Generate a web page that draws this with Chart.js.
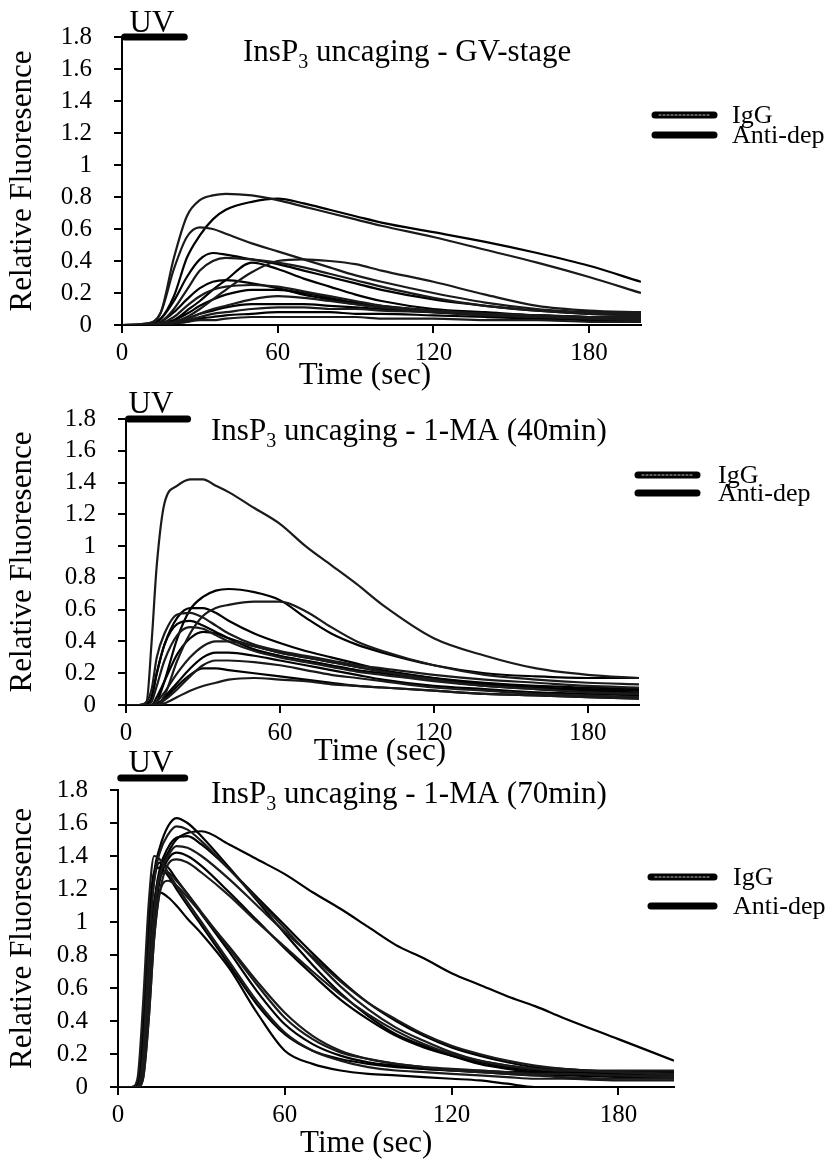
<!DOCTYPE html>
<html><head><meta charset="utf-8">
<script src="https://cdn.jsdelivr.net/npm/chart.js@4.4.1/dist/chart.umd.min.js"></script>
<style>
html,body{margin:0;padding:0;background:#fff;}
body{width:832px;height:1162px;position:relative;overflow:hidden;}
canvas{position:absolute;left:0;}
</style></head><body>
<canvas id="c1" width="832" height="400" style="top:0px"></canvas>
<canvas id="c2" width="832" height="400" style="top:380px"></canvas>
<canvas id="c3" width="832" height="422" style="top:740px"></canvas>
<script>
// ---------- tick labels / categories ----------
const X_TICKS = [0, 60, 120, 180];
const Y_TICKS = [0, 0.2, 0.4, 0.6, 0.8, 1, 1.2, 1.4, 1.6, 1.8];
const Y_LABELS = ['0', '0.2', '0.4', '0.6', '0.8', '1', '1.2', '1.4', '1.6', '1.8'];
const UV_PERIOD = [1, 24];
const LEGEND_LABELS = ['IgG', 'Anti-dep'];
const TITLE_REST = [' uncaging - GV-stage', ' uncaging - 1-MA (40min)', ' uncaging - 1-MA (70min)'];

// ---------- panel 1: GV-stage ----------
const T_GV = [0,10,15,20,25,30,35,40,50,60,70,80,90,100,120,140,160,180,200];
const GV_A = [0,0.01,0.08,0.42,0.68,0.78,0.81,0.82,0.81,0.78,0.74,0.70,0.66,0.62,0.55,0.47,0.39,0.30,0.20];
const GV_B = [0,0,0.04,0.18,0.42,0.56,0.66,0.72,0.77,0.79,0.76,0.72,0.68,0.64,0.58,0.52,0.45,0.37,0.27];
const GV_C = [0,0.01,0.08,0.35,0.55,0.61,0.60,0.57,0.51,0.46,0.41,0.36,0.31,0.27,0.20,0.14,0.10,0.08,0.07];
const GV_D = [0,0,0.04,0.15,0.30,0.41,0.45,0.44,0.41,0.38,0.34,0.30,0.26,0.22,0.16,0.12,0.09,0.07,0.06];
const GV_E = [0,0,0.02,0.10,0.22,0.34,0.40,0.42,0.41,0.39,0.36,0.32,0.28,0.24,0.17,0.12,0.09,0.07,0.06];
const GV_F = [0,0,0.01,0.03,0.09,0.15,0.22,0.28,0.39,0.35,0.29,0.24,0.19,0.15,0.10,0.08,0.06,0.05,0.05];
const GV_G = [0,0,0.01,0.02,0.05,0.10,0.16,0.22,0.33,0.40,0.41,0.40,0.38,0.34,0.27,0.19,0.12,0.09,0.08];
const GV_H = [0,0,0.02,0.08,0.16,0.23,0.27,0.28,0.26,0.23,0.19,0.16,0.13,0.11,0.08,0.06,0.05,0.04,0.04];
const GV_I = [0,0,0.01,0.05,0.12,0.18,0.22,0.24,0.25,0.24,0.21,0.18,0.15,0.12,0.09,0.07,0.06,0.05,0.05];
const GV_J = [0,0,0.01,0.03,0.07,0.12,0.16,0.19,0.22,0.22,0.20,0.17,0.14,0.12,0.09,0.07,0.05,0.04,0.03];
const GV_K = [0,0,0.01,0.02,0.04,0.07,0.10,0.12,0.16,0.18,0.17,0.15,0.13,0.11,0.09,0.07,0.06,0.05,0.04];
const GV_L = [0,0,0.01,0.02,0.04,0.07,0.09,0.11,0.13,0.13,0.13,0.12,0.11,0.10,0.08,0.07,0.06,0.05,0.04];
const GV_M = [0,0,0,0.02,0.03,0.05,0.07,0.08,0.10,0.11,0.11,0.10,0.10,0.09,0.08,0.06,0.05,0.04,0.03];
const GV_N = [0,0,0,0.01,0.02,0.04,0.05,0.06,0.07,0.08,0.08,0.08,0.07,0.07,0.06,0.05,0.04,0.03,0.02];
const GV_O = [0,0,0,0.01,0.02,0.03,0.03,0.04,0.05,0.05,0.05,0.05,0.05,0.04,0.04,0.03,0.03,0.02,0.02];
const GV_IGG = [GV_A, GV_C, GV_E, GV_G, GV_I, GV_K, GV_M, GV_O];
const GV_ANTI = [GV_B, GV_D, GV_F, GV_H, GV_J, GV_L, GV_N];

// ---------- panel 2: 1-MA (40min) ----------
const T_40 = [0,5,8,10,12,15,20,25,30,35,40,50,60,70,80,90,100,120,140,160,180,200];
const M40_P = [0,0,0.02,0.40,0.88,1.27,1.38,1.42,1.42,1.38,1.34,1.24,1.14,1.00,0.88,0.76,0.63,0.42,0.31,0.23,0.19,0.17];
const M40_Q = [0,0,0,0,0.02,0.15,0.42,0.60,0.68,0.72,0.73,0.71,0.66,0.55,0.45,0.38,0.33,0.25,0.20,0.18,0.17,0.17];
const M40_R = [0,0,0,0,0,0.06,0.28,0.45,0.56,0.61,0.63,0.65,0.65,0.59,0.49,0.40,0.34,0.25,0.19,0.16,0.14,0.13];
const M40_S = [0,0,0,0.05,0.20,0.38,0.55,0.61,0.61,0.58,0.53,0.45,0.39,0.34,0.30,0.26,0.22,0.17,0.13,0.11,0.09,0.08];
const M40_T = [0,0,0.02,0.10,0.30,0.45,0.57,0.58,0.55,0.50,0.45,0.38,0.34,0.31,0.28,0.25,0.23,0.19,0.16,0.14,0.12,0.11];
const M40_U = [0,0,0.01,0.05,0.20,0.38,0.51,0.53,0.50,0.46,0.42,0.35,0.31,0.28,0.25,0.22,0.20,0.16,0.13,0.11,0.10,0.09];
const M40_V = [0,0,0,0.02,0.12,0.28,0.44,0.49,0.48,0.44,0.40,0.34,0.30,0.27,0.24,0.21,0.19,0.15,0.12,0.10,0.08,0.07];
const M40_W = [0,0,0,0,0.05,0.15,0.32,0.42,0.46,0.45,0.42,0.37,0.33,0.30,0.27,0.24,0.21,0.17,0.14,0.12,0.11,0.10];
const M40_X = [0,0,0,0,0.02,0.08,0.20,0.30,0.37,0.40,0.40,0.37,0.33,0.30,0.27,0.24,0.21,0.16,0.12,0.10,0.08,0.07];
const M40_Y = [0,0,0,0,0,0.05,0.14,0.23,0.30,0.33,0.33,0.31,0.28,0.25,0.22,0.19,0.16,0.12,0.10,0.08,0.07,0.06];
const M40_Z = [0,0,0,0,0,0.03,0.10,0.18,0.25,0.28,0.28,0.27,0.25,0.22,0.19,0.17,0.15,0.11,0.09,0.07,0.06,0.05];
const M40_AA = [0,0,0,0,0.01,0.04,0.12,0.19,0.23,0.23,0.22,0.20,0.18,0.16,0.14,0.12,0.11,0.09,0.07,0.06,0.05,0.04];
const M40_AB = [0,0,0,0,0,0.01,0.05,0.09,0.12,0.14,0.16,0.17,0.16,0.15,0.13,0.12,0.11,0.09,0.07,0.06,0.05,0.04];
const M40_IGG = [M40_P, M40_R, M40_T, M40_V, M40_X, M40_Z, M40_AB];
const M40_ANTI = [M40_Q, M40_S, M40_U, M40_W, M40_Y, M40_AA];

// ---------- panel 3: 1-MA (70min) ----------
const T_70 = [0,5,7,9,11,13,15,18,21,25,30,40,50,60,70,80,90,100,110,120,130,140,150,160,180,200];
const M70_F1 = [0,0,0.05,0.50,1.10,1.40,1.38,1.30,1.22,1.12,1.00,0.76,0.52,0.33,0.22,0.16,0.12,0.10,0.09,0.08,0.07,0.06,0.05,0.05,0.04,0.04];
const M70_F2 = [0,0,0.02,0.30,0.90,1.25,1.36,1.33,1.26,1.17,1.05,0.82,0.58,0.38,0.26,0.19,0.15,0.13,0.11,0.10,0.09,0.08,0.07,0.07,0.06,0.06];
const M70_F3 = [0,0,0,0.15,0.60,1.05,1.28,1.30,1.25,1.17,1.06,0.84,0.62,0.42,0.29,0.21,0.17,0.14,0.12,0.11,0.10,0.09,0.08,0.08,0.07,0.06];
const M70_F4 = [0,0,0,0.20,0.70,1.12,1.18,1.15,1.10,1.02,0.93,0.72,0.45,0.22,0.14,0.10,0.08,0.07,0.06,0.05,0.04,0.02,0.00,0.00,0.00,0.00];
const M70_F5 = [0,0,0,0.05,0.40,0.90,1.18,1.25,1.22,1.15,1.05,0.85,0.64,0.45,0.31,0.22,0.17,0.14,0.12,0.10,0.09,0.08,0.07,0.06,0.05,0.05];
const M70_F6 = [0,0,0.02,0.40,1.00,1.30,1.33,1.28,1.20,1.10,0.98,0.74,0.50,0.32,0.22,0.17,0.14,0.12,0.11,0.10,0.10,0.09,0.09,0.09,0.09,0.09];
const M70_M1 = [0,0,0,0.30,0.90,1.30,1.45,1.58,1.63,1.60,1.52,1.33,1.13,0.93,0.74,0.57,0.43,0.32,0.25,0.19,0.14,0.11,0.09,0.08,0.07,0.06];
const M70_M2 = [0,0,0,0.20,0.80,1.25,1.42,1.53,1.58,1.56,1.49,1.32,1.14,0.96,0.78,0.61,0.47,0.36,0.28,0.21,0.16,0.13,0.11,0.10,0.09,0.08];
const M70_M3 = [0,0,0,0.10,0.60,1.10,1.32,1.45,1.51,1.52,1.47,1.32,1.15,0.98,0.81,0.65,0.51,0.40,0.31,0.24,0.19,0.15,0.12,0.11,0.09,0.08];
const M70_M4 = [0,0,0,0.10,0.60,1.05,1.28,1.40,1.46,1.45,1.40,1.26,1.10,0.94,0.79,0.64,0.51,0.41,0.32,0.25,0.20,0.16,0.13,0.11,0.09,0.07];
const M70_M5 = [0,0,0,0.10,0.50,1.00,1.25,1.38,1.42,1.40,1.34,1.18,1.01,0.84,0.68,0.53,0.41,0.31,0.24,0.19,0.15,0.12,0.10,0.09,0.08,0.07];
const M70_M6 = [0,0,0,0.05,0.40,0.90,1.18,1.35,1.38,1.36,1.30,1.16,1.00,0.85,0.70,0.56,0.44,0.34,0.26,0.20,0.16,0.13,0.11,0.10,0.10,0.10];
const M70_S1 = [0,0,0,0.20,0.70,1.10,1.30,1.42,1.50,1.54,1.55,1.47,1.38,1.29,1.18,1.08,0.97,0.86,0.78,0.69,0.62,0.55,0.49,0.42,0.29,0.16];
const M70_IGG = [M70_F1, M70_F3, M70_F5, M70_M2, M70_M4, M70_M6];
const M70_ANTI = [M70_F2, M70_F4, M70_F6, M70_M1, M70_M3, M70_M5, M70_S1];

// ---------- rendering ----------
const SERIF = "'Liberation Serif', 'Times New Roman', Times, serif";
Chart.defaults.font.family = SERIF;
Chart.defaults.color = '#000';

function makeDecor(o) {
  return {
    id: 'decor' + o.id,
    afterDraw(chart) {
      const ctx = chart.ctx, xs = chart.scales.x;
      ctx.save();
      ctx.fillStyle = '#000';
      ctx.textAlign = 'center';
      ctx.textBaseline = 'alphabetic';
      // UV label
      ctx.font = '31px ' + SERIF;
      ctx.fillText('UV', o.uvTextX, o.uvTextY);
      // panel title with subscript
      ctx.textAlign = 'left';
      let x = o.titleX;
      ctx.fillText('InsP', x, o.titleY);
      x += ctx.measureText('InsP').width;
      ctx.font = '20px ' + SERIF;
      ctx.fillText('3', x, o.titleY + 7);
      x += ctx.measureText('3').width;
      ctx.font = '31px ' + SERIF;
      ctx.fillText(o.titleRest, x, o.titleY);
      // x axis title
      ctx.textAlign = 'center';
      ctx.fillText('Time (sec)', xs.getPixelForValue(o.xTitleAt), o.xTitleY);
      // legend
      ctx.textAlign = 'left';
      ctx.font = o.legendFont + 'px ' + SERIF;
      LEGEND_LABELS.forEach((lab, i) => {
        const y = o.legendY[i];
        ctx.lineCap = 'round';
        ctx.strokeStyle = '#000';
        ctx.lineWidth = 7;
        ctx.setLineDash([]);
        ctx.beginPath(); ctx.moveTo(o.legendX1, y); ctx.lineTo(o.legendX2, y); ctx.stroke();
        if (i === 0) {
          ctx.strokeStyle = '#bdbdbd'; ctx.lineWidth = 1.2; ctx.setLineDash([2, 2]);
          ctx.beginPath(); ctx.moveTo(o.legendX1 + 4, y); ctx.lineTo(o.legendX2 - 4, y); ctx.stroke();
          ctx.setLineDash([]);
        }
        ctx.fillText(lab, o.legendTextX, y + 8);
      });
      ctx.restore();
    }
  };
}

function trace(label, times, values, color) {
  return {
    label: label,
    data: times.map((t, i) => ({ x: t, y: values[i] })),
    borderColor: color, borderWidth: 2.2, pointRadius: 0,
    cubicInterpolationMode: 'monotone', fill: false
  };
}

function buildPanel(o) {
  const ds = [];
  o.igg.forEach((v, i) => ds.push(trace('IgG ' + (i + 1), o.times, v, '#1a1a1a')));
  o.anti.forEach((v, i) => ds.push(trace('Anti-dep ' + (i + 1), o.times, v, '#000')));
  ds.push({
    label: 'UV', data: [{ x: UV_PERIOD[0], y: o.uvLevel }, { x: UV_PERIOD[1], y: o.uvLevel }],
    borderColor: '#000', borderWidth: 7, borderCapStyle: 'round', pointRadius: 0, clip: false
  });
  const axisGrid = { drawOnChartArea: false, drawTicks: true, tickLength: 8, color: '#000', lineWidth: 2 };
  new Chart(document.getElementById(o.id), {
    type: 'line',
    data: { datasets: ds },
    options: {
      responsive: false, animation: false, events: [],
      layout: { padding: { top: o.area.top, left: 0, right: 832 - o.area.right, bottom: o.h - o.area.bottom - 40 } },
      plugins: { legend: { display: false }, tooltip: { enabled: false } },
      scales: {
        x: {
          type: 'linear', min: 0, max: 200,
          afterBuildTicks: s => { s.ticks = X_TICKS.map(v => ({ value: v })); },
          afterFit: s => { s.height = 40; },
          ticks: { font: { size: 25 }, color: '#000', padding: 5, maxRotation: 0, autoSkip: false },
          grid: axisGrid, border: { color: '#000', width: 2 }
        },
        y: {
          type: 'linear', min: 0, max: 1.8,
          afterBuildTicks: s => { s.ticks = Y_TICKS.map(v => ({ value: v })); },
          afterFit: s => { s.width = o.area.left; },
          ticks: { font: { size: 25 }, color: '#000', padding: 22, autoSkip: false, callback: (v, i) => Y_LABELS[i] },
          grid: axisGrid, border: { color: '#000', width: 2 },
          title: { display: true, text: 'Relative Fluoresence', font: { size: 31 }, color: '#000', padding: { top: 4, bottom: 0 } }
        }
      }
    },
    plugins: [makeDecor(o)]
  });
}

buildPanel({ id: 'c1', h: 400, area: { top: 37, bottom: 325, left: 122, right: 641 },
  times: T_GV, igg: GV_IGG, anti: GV_ANTI, uvLevel: 1.8,
  uvTextX: 152, uvTextY: 32, titleX: 243, titleY: 61, titleRest: TITLE_REST[0],
  xTitleAt: 93.6, xTitleY: 384,
  legendX1: 655, legendX2: 714, legendY: [115, 135], legendTextX: 732, legendFont: 26 });

buildPanel({ id: 'c2', h: 400, area: { top: 39, bottom: 325, left: 126, right: 639 },
  times: T_40, igg: M40_IGG, anti: M40_ANTI, uvLevel: 1.8,
  uvTextX: 151, uvTextY: 33, titleX: 211, titleY: 60, titleRest: TITLE_REST[1],
  xTitleAt: 99, xTitleY: 380,
  legendX1: 638, legendX2: 697, legendY: [95, 113], legendTextX: 718, legendFont: 26 });

buildPanel({ id: 'c3', h: 422, area: { top: 50, bottom: 347, left: 118, right: 674 },
  times: T_70, igg: M70_IGG, anti: M70_ANTI, uvLevel: 1.873,
  uvTextX: 151, uvTextY: 32, titleX: 211, titleY: 63, titleRest: TITLE_REST[2],
  xTitleAt: 89.3, xTitleY: 412,
  legendX1: 651, legendX2: 714, legendY: [137, 166], legendTextX: 733, legendFont: 26 });
</script>
</body></html>
